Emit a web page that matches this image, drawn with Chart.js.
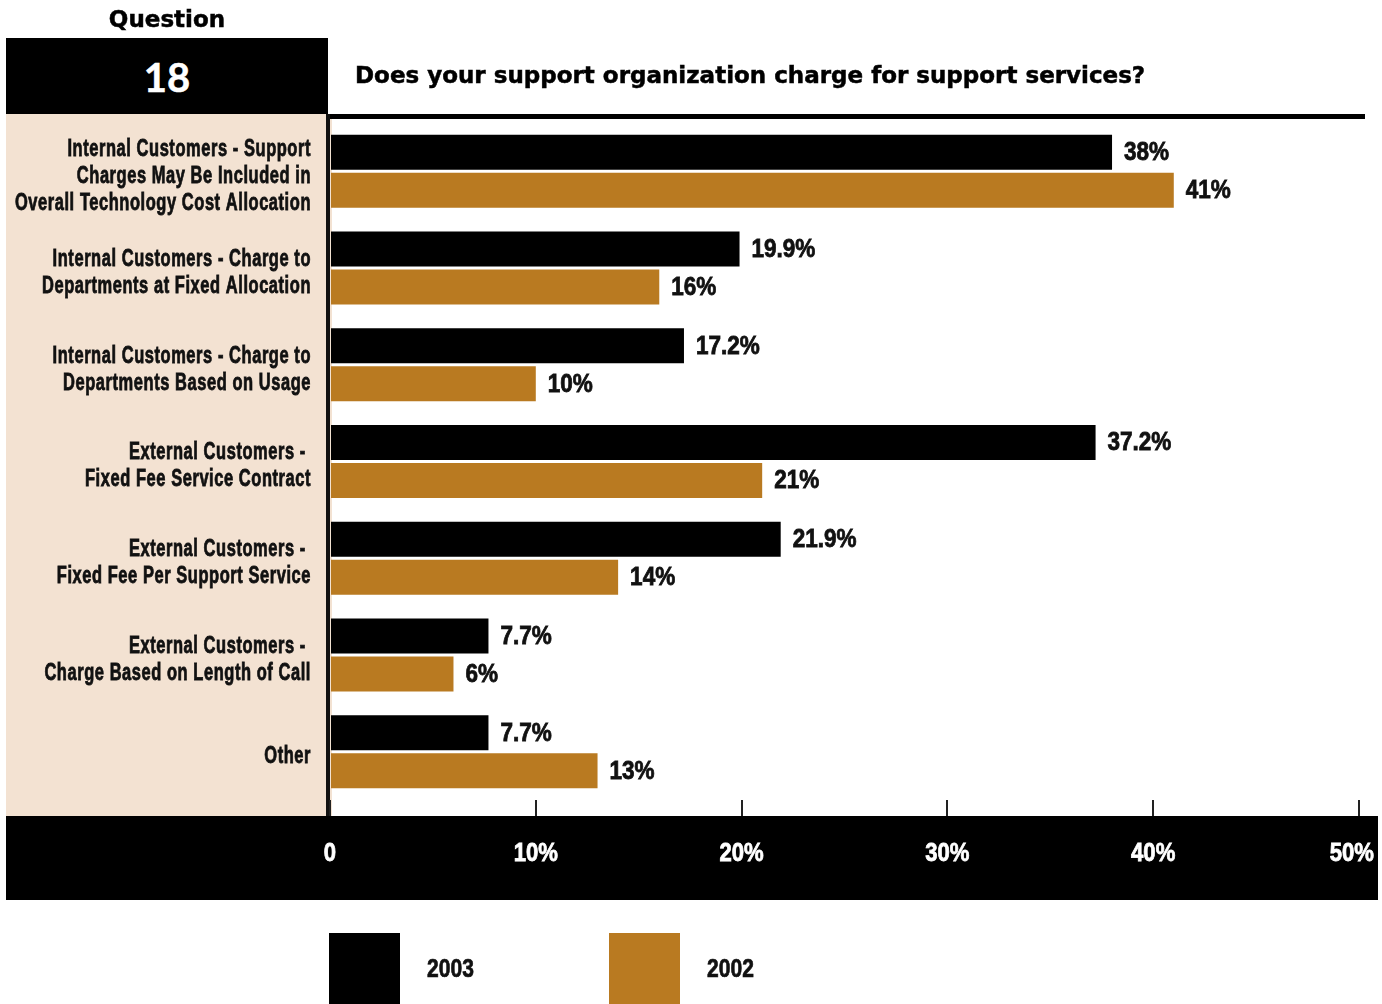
<!DOCTYPE html>
<html>
<head>
<meta charset="utf-8">
<title>Question 18</title>
<script src="https://cdn.jsdelivr.net/npm/chart.js@4.4.1/dist/chart.umd.min.js"></script>
<style>
  body { margin: 0; background: #fff; }
  #page { position: relative; width: 1382px; height: 1004px; overflow: hidden; }
  #chart { position: absolute; left: 0; top: 0; }
  .head { position: absolute; font-family: 'DejaVu Sans', sans-serif; font-weight: bold; color: #000;
          white-space: nowrap; -webkit-text-stroke: 0.5px #000; }
  #question { left: 6px; width: 322px; top: 3px; font-size: 23px; line-height: 32px; text-align: center; }
  #number { left: 6px; top: 38px; width: 322px; height: 76px; background: #000; color: #fff; -webkit-text-stroke: 0.5px #fff;
            font-family: Lato, sans-serif; font-size: 40px; line-height: 78px; text-align: center; }
  #title { left: 355px; top: 59px; font-size: 23px; line-height: 32px; }
  #legend { position: absolute; left: 0; top: 933px; }
  .swatch { position: absolute; top: 0; width: 71px; height: 71px; }
  .legtext { position: absolute; top: 18px; font: bold 26px 'Liberation Sans', Arial, sans-serif;
             line-height: 34px; color: #111; -webkit-text-stroke: 0.7px #111;
             transform: scaleX(0.81); transform-origin: left center; }
</style>
</head>
<body>
<div id="page">
  <canvas id="chart" width="1382" height="1004"></canvas>
  <div class="head" id="question">Question</div>
  <div class="head" id="number">18</div>
  <div class="head" id="title">Does your support organization charge for support services?</div>
  <div id="legend"></div>
</div>
<script>
// answer categories, one array entry per text line
const categories = [
  ['Internal Customers - Support', 'Charges May Be Included in', 'Overall Technology Cost Allocation'],
  ['Internal Customers - Charge to', 'Departments at Fixed Allocation'],
  ['Internal Customers - Charge to', 'Departments Based on Usage'],
  ['External Customers - ', 'Fixed Fee Service Contract'],
  ['External Customers - ', 'Fixed Fee Per Support Service'],
  ['External Customers - ', 'Charge Based on Length of Call'],
  ['Other']
];
const years = ['2003', '2002'];
const values2003 = [38, 19.9, 17.2, 37.2, 21.9, 7.7, 7.7];
const values2002 = [41, 16, 10, 21, 14, 6, 13];
const axisTicks = [0, 10, 20, 30, 40, 50];

const BLACK = '#000000';
const GOLD = '#b97a21';
const BEIGE = '#f3e2d2';
const SANS = "'Liberation Sans', Arial, sans-serif";
const BAND_RIGHT = 1378;

// condensed, heavy look: squeeze the text horizontally and thicken the strokes
function narrowText(ctx, text, x, y, align, squeeze, spacing) {
  ctx.save();
  ctx.translate(x, y);
  ctx.scale(squeeze, 1);
  ctx.textAlign = align;
  ctx.letterSpacing = (spacing || 0) + 'px';
  ctx.lineWidth = 0.8;
  ctx.strokeStyle = ctx.fillStyle;
  ctx.fillText(text, 0, 0);
  ctx.strokeText(text, 0, 0);
  ctx.restore();
}

// panels, rules and text that sit around the plot
const decorations = {
  id: 'decorations',
  beforeDraw(chart) {
    const { ctx, chartArea } = chart;
    const x = chart.scales.x;
    const bandTop = x.top + 16;
    ctx.save();
    // beige label panel
    ctx.fillStyle = BEIGE;
    ctx.fillRect(6, 114, chartArea.left - 4, bandTop - 114);
    // black band holding the axis labels
    ctx.fillStyle = '#000';
    ctx.fillRect(6, bandTop, BAND_RIGHT - 6, 84);
    // rule under the title
    ctx.fillRect(chartArea.left - 2, 114, 1365 - chartArea.left + 2, 5);
    // vertical axis line
    ctx.fillStyle = '#111';
    ctx.fillRect(chartArea.left - 4, 114, 4, bandTop - 114);
    ctx.restore();
  },
  afterDraw(chart) {
    const { ctx } = chart;
    const x = chart.scales.x;
    const y = chart.scales.y;
    ctx.save();
    ctx.textBaseline = 'middle';

    // value labels at the bar ends
    ctx.font = 'bold 25px ' + SANS;
    ctx.fillStyle = '#111';
    chart.data.datasets.forEach((ds, di) => {
      chart.getDatasetMeta(di).data.forEach((bar, i) => {
        narrowText(ctx, ds.data[i] + '%', bar.x + 12, bar.y + 1, 'left', 0.9);
      });
    });

    // category labels, right aligned inside the panel
    ctx.font = 'bold 23px ' + SANS;
    const lh = 27;
    chart.data.labels.forEach((lines, i) => {
      const cy = y.getPixelForValue(i) + 5;
      const start = cy - (lines.length - 1) * lh / 2;
      lines.forEach((t, k) => narrowText(ctx, t, 311, start + k * lh, 'right', 0.715, 0.8));
    });

    // axis labels in the black band, kept inside its right edge
    ctx.font = 'bold 26px ' + SANS;
    ctx.fillStyle = '#fff';
    x.ticks.forEach(t => {
      const label = t.value === 0 ? '0' : t.value + '%';
      const half = ctx.measureText(label).width * 0.85 / 2;
      const px = Math.min(x.getPixelForValue(t.value), BAND_RIGHT - 4 - half);
      narrowText(ctx, label, px, x.top + 54, 'center', 0.85);
    });
    ctx.restore();
  }
};

const chart = new Chart(document.getElementById('chart'), {
  type: 'bar',
  data: {
    labels: categories,
    datasets: [
      { label: years[0], data: values2003, backgroundColor: BLACK },
      { label: years[1], data: values2002, backgroundColor: GOLD }
    ]
  },
  options: {
    indexAxis: 'y',
    responsive: false,
    animation: false,
    events: [],
    categoryPercentage: 0.786,
    barPercentage: 0.921,
    layout: { padding: { top: 123, right: 23, left: 0, bottom: 0 } },
    plugins: { legend: { display: false }, tooltip: { enabled: false } },
    scales: {
      x: {
        min: axisTicks[0],
        max: axisTicks[axisTicks.length - 1],
        afterBuildTicks: s => { s.ticks = axisTicks.map(v => ({ value: v })); },
        afterFit: s => { s.height = 204; },
        border: { display: false },
        grid: { drawOnChartArea: false, drawTicks: true, tickLength: 16, color: '#222', lineWidth: 2 },
        ticks: { display: false }
      },
      y: {
        afterFit: s => { s.width = 330; },
        border: { display: false },
        grid: { display: false },
        ticks: { display: false }
      }
    }
  },
  plugins: [decorations]
});

// legend built from the datasets
const legend = document.getElementById('legend');
chart.data.datasets.forEach((ds, i) => {
  const left = 329 + i * 280;
  const sw = document.createElement('div');
  sw.className = 'swatch';
  sw.style.left = left + 'px';
  sw.style.background = ds.backgroundColor;
  const tx = document.createElement('div');
  tx.className = 'legtext';
  tx.style.left = (left + 98) + 'px';
  tx.textContent = ds.label;
  legend.appendChild(sw);
  legend.appendChild(tx);
});
</script>
</body>
</html>
